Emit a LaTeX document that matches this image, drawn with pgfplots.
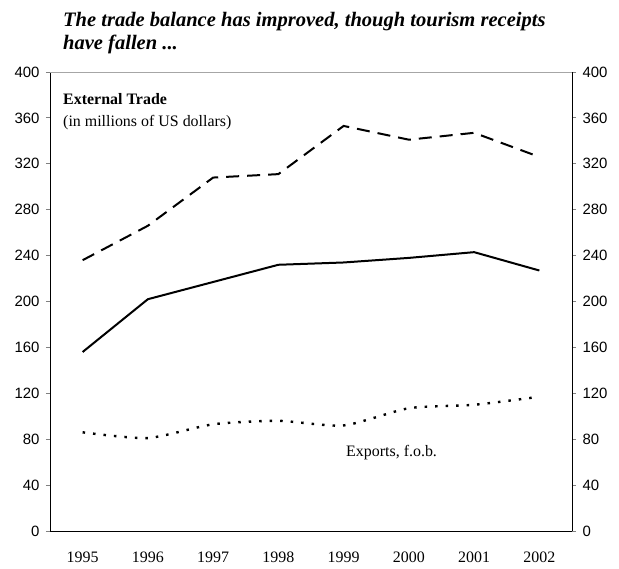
\documentclass[border=0pt]{standalone}
\usepackage{fontspec}
\setmainfont{Liberation Serif}
\newfontfamily\tickfont{Liberation Sans}
\usepackage{pgfplots}
\pgfplotsset{compat=1.18}
\begin{document}
\begin{tikzpicture}
\useasboundingbox (-50bp,-38bp) rectangle (569bp,531bp);
\begin{axis}[
  at={(0,0)}, anchor=south west,
  scale only axis, width=522bp, height=459bp,
  xmin=-0.5, xmax=7.5, ymin=0, ymax=400,
  axis x line*=bottom, axis y line*=left,
  axis line style={line width=0.8bp},
  xtick={0,...,7},
  xticklabels={1995,1996,1997,1998,1999,2000,2001,2002},
  major x tick style={draw=none},
  extra x ticks={0.5,1.5,2.5,3.5,4.5,5.5,6.5},
  extra x tick labels={},
  extra x tick style={tick align=inside, major tick length=5bp, tick style={line width=0.8bp}},
  xticklabel style={font=\fontsize{16}{18}\selectfont, yshift=-17bp},
  ytick={0,40,...,400},
  y tick style={line width=0.8bp},
  ytick align=outside, major tick length=4bp,
  yticklabel style={font=\tickfont\fontsize{15}{18}\selectfont, xshift=-3bp},
  /pgf/number format/assume math mode=true,
  clip=false,
]
\draw[gray!70, line width=0.6bp] (rel axis cs:0,1) -- (rel axis cs:1,1);
\addplot[black, line width=2bp, dash pattern=on 13bp off 8bp] coordinates {
(0,236) (1,266) (2,308) (3,311) (4,353) (5,341) (6,347) (7,326)};
\addplot[black, line width=2bp] coordinates {
(0,156) (1,202) (2,217) (3,232) (4,234) (5,238) (6,243) (7,227)};
\addplot[black, line width=2.4bp, dash pattern=on 2.5bp off 8bp, smooth, tension=0.4] coordinates {
(0,86) (1,81) (2,93) (3,96) (4,92) (5,107) (6,110) (7,117)};
\end{axis}
\begin{axis}[
  at={(0,0)}, anchor=south west,
  scale only axis, width=522bp, height=459bp,
  xmin=-0.5, xmax=7.5, ymin=0, ymax=400,
  axis x line=none, axis y line*=right,
  axis line style={line width=0.8bp},
  ytick={0,40,...,400},
  y tick style={line width=0.8bp},
  ytick align=outside, major tick length=4bp,
  yticklabel style={font=\tickfont\fontsize{15}{18}\selectfont, xshift=3bp},
  /pgf/number format/assume math mode=true,
]
\end{axis}
\node[anchor=base west, inner sep=0pt, font=\fontsize{20.6}{24}\selectfont\bfseries\itshape] at (13bp,504bp) {The trade balance has improved, though tourism receipts};
\node[anchor=base west, inner sep=0pt, font=\fontsize{20.6}{24}\selectfont\bfseries\itshape] at (13bp,481bp) {have fallen ...};
\node[anchor=base west, inner sep=0pt, font=\fontsize{16}{18}\selectfont\bfseries] at (13bp,426bp) {External Trade};
\node[anchor=base west, inner sep=0pt, font=\fontsize{16}{18}\selectfont] at (13bp,404bp) {(in millions of US dollars)};
\node[anchor=base west, inner sep=0pt, font=\fontsize{16}{18}\selectfont] at (296bp,74bp) {Exports, f.o.b.};
\end{tikzpicture}
\end{document}
